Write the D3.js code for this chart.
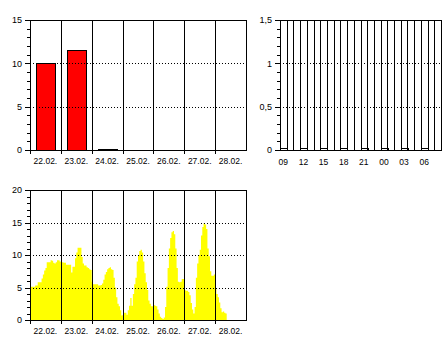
<html>
<head>
<script src="https://d3js.org/d3.v7.min.js"></script>
<style>
  body { margin: 0; background: #fff; }
  text { font-family: 'Liberation Sans', Arial, sans-serif; font-size: 9px; fill: #000; }
</style>
</head>
<body>
<svg id="chart" width="446" height="340"></svg>
<script>
// daily totals (top left)
const days = ['22.02.', '23.02.', '24.02.', '25.02.', '26.02.', '27.02.', '28.02.']
const dayTotals = [10, 11.5, 0.15, 0, 0, 0, 0]

// 3-hourly values (top right)
const hours = ['09','10','11','12','13','14','15','16','17','18','19','20','21','22','23','00','01','02','03','04','05','06','07','08']
const hourTicks = ['09', '12', '15', '18', '21', '00', '03', '06']
const hourVals = [0, 0, 0, 0, 0, 0, 0, 0]

// hourly values (bottom), one list per day
const d22 = [5.1,5.1,5.1,5.1,5.3,5.3,5.8,5.8,5.8,6.4,7.0,7.6,8.0,8.9,8.9,8.9,9.2,9.1,8.8,8.7,8.9,9.2,9.2,9.0]
const d23 = [8.9,8.9,8.8,8.8,8.5,8.5,8.5,8.5,7.3,8.2,8.2,9.5,10.4,11.1,11.1,11.1,9.7,8.7,8.4,8.4,8.1,8.0,7.8,7.7]
const d24 = [5.9,5.5,5.5,5.5,5.5,5.3,5.3,5.4,5.6,6.2,7.0,7.4,7.8,8.0,8.1,7.8,7.7,6.5,5.0,3.5,2.5,2.1,1.5,0.7]
const d25 = [0.8,1.1,1.1,0.8,1.5,2.2,3.4,2.2,4.0,5.5,6.5,9.0,10.0,10.6,10.8,10.4,9.0,7.2,5.8,4.6,3.0,2.5,2.1,2.1]
const d26 = [2.3,2.2,2.1,1.6,1.0,0.5,0.3,0.15,0.4,2.0,5.1,8.0,11.0,12.6,13.5,13.7,13.2,11.0,8.0,5.9,5.8,5.9,6.3,6.3]
const d27 = [4.6,4.5,4.5,4.3,3.8,2.6,1.6,1.0,2.0,6.5,8.7,10.0,10.8,13.0,14.3,14.9,14.7,14.0,11.0,9.8,7.5,6.8,6.8,7.0]
const d28 = [4.9,4.0,3.5,2.7,1.8,1.2,1.3,1.1,1.0]

const svg = d3.select('svg#chart')

function yPanel(box, yMax, major, minor, grid, fmt) {
    const y = d3.scaleLinear().domain([0, yMax]).range([box.bottom, box.top])
    const g = svg.append('g')

    g.append('g')
        .attr('transform', `translate(${box.left},0)`)
        .call(d3.axisLeft(y).tickValues(d3.range(0, yMax + minor / 2, minor)).tickSize(3).tickFormat(''))
    g.append('g')
        .attr('transform', `translate(${box.left},0)`)
        .call(d3.axisLeft(y).tickValues(d3.range(0, yMax + major / 2, major)).tickSize(5).tickPadding(3).tickFormat(fmt))
    g.selectAll('.domain').remove()
    g.selectAll('line').attr('shape-rendering', 'crispEdges')
    g.selectAll('text').style('font-size', '9px')
    return y
}

function gridAndFrame(box, y, grid, vlines) {
    const g = svg.append('g').attr('shape-rendering', 'crispEdges')
    g.selectAll('line.grid').data(grid).join('line')
        .attr('class', 'grid')
        .attr('x1', box.left).attr('x2', box.right)
        .attr('y1', d => Math.round(y(d)) + 0.5).attr('y2', d => Math.round(y(d)) + 0.5)
        .attr('stroke', '#000').attr('stroke-dasharray', '1,2')
    g.selectAll('line.v').data(vlines).join('line')
        .attr('class', 'v')
        .attr('x1', d => Math.round(d) + 0.5).attr('x2', d => Math.round(d) + 0.5)
        .attr('y1', box.top).attr('y2', box.bottom)
        .attr('stroke', '#000')
    g.append('rect')
        .attr('x', box.left + 0.5).attr('y', box.top + 0.5)
        .attr('width', box.right - box.left).attr('height', box.bottom - box.top)
        .attr('fill', 'none').attr('stroke', '#000')
}

// ---------- top left: daily bars ----------
const b1 = {left: 30, right: 246, top: 20, bottom: 150}
const y1 = yPanel(b1, 15, 5, 1, [5, 10], d => d)
const x1 = d3.scaleBand().domain(days).range([b1.left, b1.right])
const bw = x1.bandwidth()

svg.append('g').selectAll('rect').data(days).join('rect')
    .attr('x', (d, i) => Math.round(x1(d) + bw * 0.2) + 0.5)
    .attr('width', Math.round(bw * 0.62))
    .attr('y', (d, i) => Math.round(y1(dayTotals[i])) + 0.5)
    .attr('height', (d, i) => Math.max(1, Math.round(y1(0) - y1(dayTotals[i]))))
    .attr('fill', '#ff0000').attr('stroke', '#000')
    .attr('shape-rendering', 'crispEdges')
    .attr('display', (d, i) => dayTotals[i] > 0 ? null : 'none')

gridAndFrame(b1, y1, [5, 10], days.slice(1).map(d => x1(d)))

svg.append('g').selectAll('line').data(days).join('line')
    .attr('x1', d => Math.round(x1(d)) + 0.5).attr('x2', d => Math.round(x1(d)) + 0.5)
    .attr('y1', b1.bottom).attr('y2', b1.bottom + 4)
    .attr('stroke', '#000').attr('shape-rendering', 'crispEdges')

svg.append('g').selectAll('text').data(days).join('text')
    .attr('x', d => x1(d) + bw / 2).attr('y', 164)
    .attr('text-anchor', 'middle').style('font-size', '8.5px')
    .text(d => d)

// ---------- top right: hourly bars ----------
const b2 = {left: 280, right: 441, top: 20, bottom: 150}
const y2 = yPanel(b2, 1.5, 0.5, 0.1, [0.5, 1], d => d3.format('.2~f')(d).replace('.', ','))
const x2 = d3.scaleBand().domain(hours).range([b2.left, b2.right])

gridAndFrame(b2, y2, [0.5, 1], hours.slice(1).map(d => x2(d)))

svg.append('g').selectAll('rect').data(hourTicks).join('rect')
    .attr('x', d => Math.round(x2(d)) + 0.5)
    .attr('width', Math.round(x2.bandwidth()))
    .attr('y', (d, i) => Math.round(y2(hourVals[i])) - 1.5)
    .attr('height', 2)
    .attr('fill', 'none').attr('stroke', '#000')
    .attr('shape-rendering', 'crispEdges')

svg.append('g').selectAll('text').data(hourTicks).join('text')
    .attr('x', d => x2(d) + x2.bandwidth() / 2).attr('y', 165)
    .attr('text-anchor', 'middle').style('font-size', '8.5px')
    .text(d => d)

// ---------- bottom: hourly area ----------
const b3 = {left: 30, right: 246, top: 190, bottom: 320}
const y3 = yPanel(b3, 20, 5, 1, [5, 10, 15], d => d)
const series = [].concat(d22, d23, d24, d25, d26, d27, d28)
const x3 = d3.scaleLinear().domain([0, days.length * 24]).range([b3.left, b3.right])
const pts = series.map((v, i) => [i, v])
pts.push([series.length, series[series.length - 1]])

svg.append('path')
    .datum(pts)
    .attr('fill', '#ffff00')
    .attr('d', d3.area().curve(d3.curveStepAfter)
        .x(d => x3(d[0])).y0(y3(0)).y1(d => y3(d[1])))

const x3d = d3.scaleBand().domain(days).range([b3.left, b3.right])
gridAndFrame(b3, y3, [5, 10, 15], days.slice(1).map(d => x3d(d)))

svg.append('g').selectAll('line').data(days).join('line')
    .attr('x1', d => Math.round(x3d(d)) + 0.5).attr('x2', d => Math.round(x3d(d)) + 0.5)
    .attr('y1', b3.bottom).attr('y2', b3.bottom + 4)
    .attr('stroke', '#000').attr('shape-rendering', 'crispEdges')

svg.append('g').selectAll('text').data(days).join('text')
    .attr('x', d => x3d(d) + x3d.bandwidth() / 2).attr('y', 334)
    .attr('text-anchor', 'middle').style('font-size', '8.5px')
    .text(d => d)
</script>
</body>
</html>
